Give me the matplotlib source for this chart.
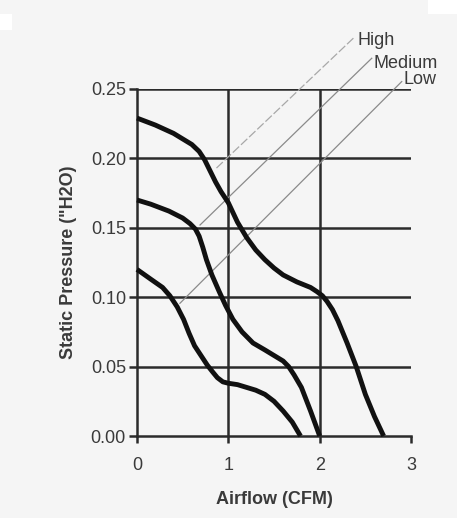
import matplotlib
matplotlib.use("Agg")
import matplotlib.pyplot as plt
from matplotlib.patches import Rectangle

# ---- data ----
high_x = [0.0, 0.2, 0.4, 0.5, 0.6, 0.68, 0.74, 0.8, 0.86, 0.92, 1.0, 1.1, 1.2, 1.3, 1.4, 1.5, 1.6, 1.75, 1.9, 1.97, 2.03, 2.08, 2.14, 2.2, 2.3, 2.4, 2.5, 2.6, 2.7]
high_y = [0.229, 0.224, 0.218, 0.214, 0.210, 0.205, 0.199, 0.191, 0.183, 0.176, 0.168, 0.154, 0.143, 0.134, 0.127, 0.121, 0.116, 0.111, 0.107, 0.104, 0.101, 0.097, 0.091, 0.083, 0.067, 0.050, 0.030, 0.014, 0.0]

med_x = [0.0, 0.15, 0.35, 0.5, 0.58, 0.64, 0.68, 0.72, 0.76, 0.82, 0.9, 0.97, 1.05, 1.15, 1.27, 1.4, 1.5, 1.6, 1.66, 1.72, 1.8, 1.9, 2.0]
med_y = [0.170, 0.167, 0.162, 0.157, 0.153, 0.149, 0.144, 0.136, 0.127, 0.116, 0.104, 0.094, 0.084, 0.075, 0.067, 0.062, 0.058, 0.054, 0.050, 0.044, 0.035, 0.018, 0.0]

low_x = [0.0, 0.15, 0.28, 0.36, 0.44, 0.51, 0.57, 0.63, 0.7, 0.77, 0.83, 0.88, 0.94, 1.0, 1.1, 1.2, 1.3, 1.4, 1.5, 1.6, 1.7, 1.79]
low_y = [0.120, 0.113, 0.107, 0.101, 0.093, 0.084, 0.074, 0.065, 0.058, 0.051, 0.046, 0.042, 0.039, 0.038, 0.037, 0.035, 0.033, 0.030, 0.025, 0.018, 0.010, 0.0]

# diagonal speed lines (start, end) in data units
speed_names = ["High", "Medium", "Low"]
speed_x = [[0.87, 2.387], [0.69, 2.570], [0.47, 2.898]]
speed_y = [[0.193, 0.2877], [0.152, 0.2721], [0.0956, 0.2553]]

x_ticks = [0, 1, 2, 3]
y_ticks = [0.00, 0.05, 0.10, 0.15, 0.20, 0.25]
y_tick_labels = ["0.00", "0.05", "0.10", "0.15", "0.20", "0.25"]
x_label = "Airflow (CFM)"
y_label = 'Static Pressure ("H2O)'

# ---- style ----
plt.rcParams["font.family"] = ["Liberation Sans", "DejaVu Sans"]
bg = "#f5f5f5"
grid_c = "#2b2b2b"
text_c = "#3a3a3a"

fig = plt.figure(figsize=(4.57, 5.18), dpi=100, facecolor=bg)
ax = fig.add_axes([0.2998, 0.1583, 0.5996, 0.670])
ax.set_facecolor("none")

# white patches of the scan
fig.patches.append(Rectangle((428 / 457, 1 - 14 / 518), 29 / 457, 14 / 518,
                             transform=fig.transFigure, facecolor="white", edgecolor="none", zorder=0))
fig.patches.append(Rectangle((0, 1 - 30 / 518), 12 / 457, 16 / 518,
                             transform=fig.transFigure, facecolor="white", edgecolor="none", zorder=0))

ax.set_xlim(0, 3)
ax.set_ylim(0, 0.25)

# grid
for yv in y_ticks[1:]:
    ax.axhline(yv, color=grid_c, lw=1.8, zorder=1)
for xv in x_ticks[1:-1]:
    ax.axvline(xv, color=grid_c, lw=1.8, zorder=1)

for s in ["top", "right"]:
    ax.spines[s].set_visible(False)
for s in ["left", "bottom"]:
    ax.spines[s].set_color(grid_c)
    ax.spines[s].set_linewidth(1.8)

# speed lines
styles = [(0, (7, 2)), "-", "-"]
colors = ["#a8a8a8", "#8a8a8a", "#8a8a8a"]
offsets = [(2, -6), (1, -7), (1, -2)]
for name, xs, ys, ls, c, off in zip(speed_names, speed_x, speed_y, styles, colors, offsets):
    ax.plot(xs, ys, color=c, lw=0.9, ls=ls, clip_on=False, zorder=2)
    ax.annotate(name, (xs[1], ys[1]), xytext=off, textcoords="offset points",
                ha="left", va="baseline", fontsize=13, color=text_c, annotation_clip=False)

# curves
for xs, ys in [(high_x, high_y), (med_x, med_y), (low_x, low_y)]:
    ax.plot(xs, ys, color="#111111", lw=3.5, solid_capstyle="butt",
            solid_joinstyle="round", clip_on=False, zorder=3)

ax.set_xticks(x_ticks)
ax.set_xticklabels([str(v) for v in x_ticks])
ax.set_yticks(y_ticks)
ax.set_yticklabels(y_tick_labels)
ax.tick_params(axis="y", direction="out", length=6, width=1.8, color=grid_c,
               labelsize=13, labelcolor=text_c, pad=2)
ax.tick_params(axis="x", direction="out", length=5, width=1.8, color=grid_c,
               labelsize=13, labelcolor=text_c, pad=10)

ax.set_xlabel(x_label, fontsize=13, fontweight="bold", color=text_c, labelpad=12)
ax.set_ylabel(y_label, fontsize=13, fontweight="bold", color=text_c, labelpad=10)

fig.savefig("out.png", dpi=100, facecolor=bg)
